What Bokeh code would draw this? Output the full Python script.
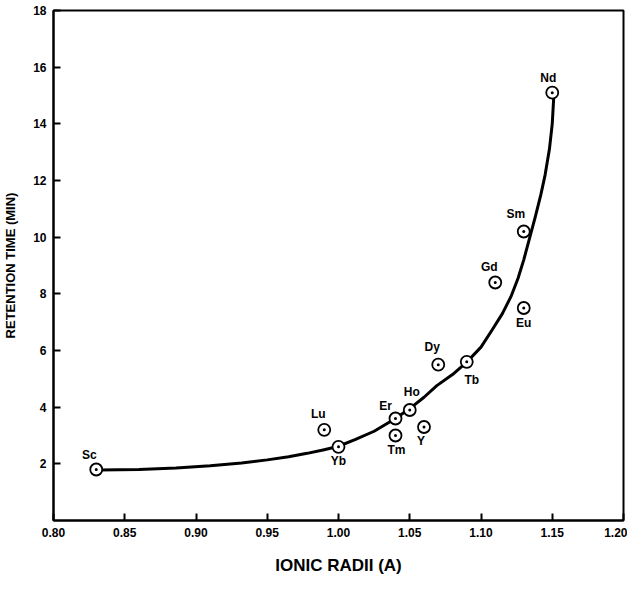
from bokeh.plotting import figure
from bokeh.models import ColumnDataSource, FixedTicker, Range1d
from bokeh.core.properties import value
from bokeh.embed import file_html
from bokeh.resources import INLINE

# ---- data ----
elements = ["Sc", "Lu", "Yb", "Tm", "Er", "Ho", "Y", "Dy", "Tb", "Gd", "Eu", "Sm", "Nd"]
ionic_radii = [0.83, 0.99, 1.00, 1.04, 1.04, 1.05, 1.06, 1.07, 1.09, 1.11, 1.13, 1.13, 1.15]
retention_min = [1.8, 3.2, 2.6, 3.0, 3.6, 3.9, 3.3, 5.5, 5.6, 8.4, 7.5, 10.2, 15.1]

curve_x = [0.832, 0.86, 0.886, 0.91, 0.932, 0.95, 0.965, 0.978, 0.99, 1.000, 1.012,
           1.025, 1.040, 1.050, 1.060, 1.069, 1.080, 1.090, 1.100, 1.108, 1.115,
           1.121, 1.126, 1.130, 1.134, 1.138, 1.142, 1.145, 1.148, 1.150, 1.151]
curve_y = [1.78, 1.80, 1.85, 1.93, 2.03, 2.14, 2.25, 2.37, 2.50, 2.62, 2.86,
           3.15, 3.6, 3.95, 4.35, 4.76, 5.15, 5.59, 6.12, 6.74, 7.30,
           7.9, 8.55, 9.2, 9.95, 10.7, 11.5, 12.2, 13.1, 14.0, 14.9]

x_ticks = [0.80, 0.85, 0.90, 0.95, 1.00, 1.05, 1.10, 1.15, 1.20]
x_tick_labels = ["0.80", "0.85", "0.90", "0.95", "1.00", "1.05", "1.10", "1.15", "1.20"]
y_ticks = [2, 4, 6, 8, 10, 12, 14, 16, 18]

# label placement (screen pixels, +y is down)
label_dx = [-7, -6, 0, 1, -10, 2, -3, -6, 5, -6, 0, -8, -4]
label_dy = [-15, -16, 14, 14, -13, -18, 14, -18, 18, -16, 15, -18, -15]

FONT = "Liberation Sans"

p = figure(width=627, height=577, output_backend="svg", toolbar_location=None,
           x_range=Range1d(0.80, 1.20), y_range=Range1d(0, 18),
           min_border_left=49, min_border_right=4, min_border_top=10, min_border_bottom=52)

p.grid.visible = False
p.background_fill_color = "white"
p.border_fill_color = "white"
p.outline_line_color = "black"
p.outline_line_width = 2

p.xaxis.ticker = FixedTicker(ticks=x_ticks)
p.xaxis.major_label_overrides = {t: l for t, l in zip(x_ticks, x_tick_labels)}
p.yaxis.ticker = FixedTicker(ticks=y_ticks)

for ax in (p.xaxis, p.yaxis):
    ax.axis_line_color = "black"
    ax.axis_line_width = 2
    ax.major_tick_in = 7
    ax.major_tick_out = 0
    ax.major_tick_line_width = 2
    ax.minor_tick_line_color = None
    ax.major_label_text_font = FONT
    ax.major_label_text_font_style = "bold"
    ax.major_label_text_font_size = "12px"
    ax.major_label_text_color = "black"
    ax.axis_label_text_font = FONT
    ax.axis_label_text_font_style = "bold"
    ax.axis_label_text_color = "black"

p.xaxis.axis_label = "IONIC RADII (A)"
p.xaxis.axis_label_text_font_size = "17px"
p.xaxis.major_label_standoff = 7
p.xaxis.axis_label_standoff = 16

p.yaxis.axis_label = "RETENTION TIME (MIN)"
p.yaxis.axis_label_text_font_size = "13px"
p.yaxis.major_label_standoff = 7
p.yaxis.axis_label_standoff = 12

p.line(curve_x, curve_y, line_color="black", line_width=3, line_join="round")

src = ColumnDataSource(dict(x=ionic_radii, y=retention_min, name=elements,
                            dx=label_dx, dy=label_dy))
p.scatter("x", "y", source=src, marker="circle_dot", size=12,
          fill_color="white", line_color="black", line_width=1.8)
p.text("x", "y", text="name", source=src, x_offset="dx", y_offset="dy",
       text_font=value(FONT), text_font_style="bold", text_font_size="12px",
       text_align="center", text_baseline="middle", text_color="black")

open("out.html", "w").write(file_html(p, INLINE))
